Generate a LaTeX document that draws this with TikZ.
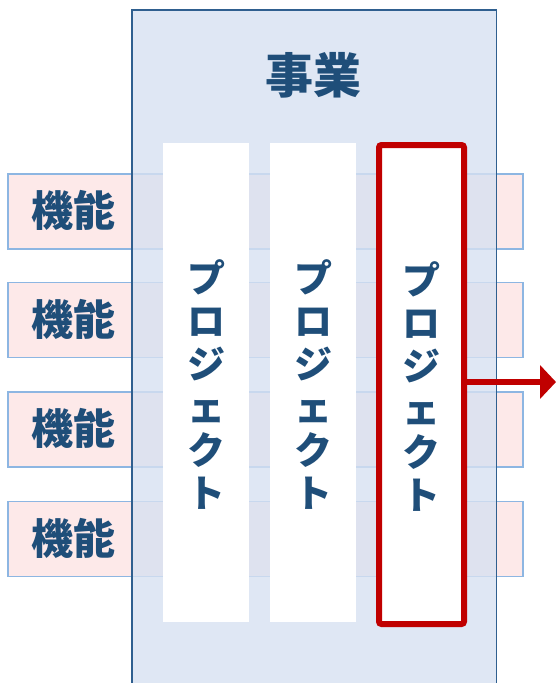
\documentclass[tikz,border=0pt]{standalone}
\usepackage{fontspec}
\newfontfamily\jp{Noto Sans CJK JP}
\usetikzlibrary{arrows.meta}
\definecolor{txtblue}{HTML}{1F4E79}
\definecolor{boxfill}{HTML}{D7E1F1}
\definecolor{boxline}{HTML}{2F5F8F}
\definecolor{rowfill}{HTML}{FDE9E9}
\definecolor{rowline}{HTML}{8DB6E2}
\definecolor{projred}{HTML}{C00000}
\begin{document}
\begin{tikzpicture}[x=1pt,y=-1pt,
  rowbox/.style={draw=rowline,line width=1.5pt,fill=rowfill,anchor=north west,minimum width=515pt,minimum height=75pt,inner sep=0pt},
  rowlabel/.style={font=\jp\bfseries\fontsize{42}{46}\selectfont,text=txtblue,inner sep=0pt},
  bizlabelstyle/.style={font=\jp\bfseries\fontsize{48}{52}\selectfont,text=txtblue,inner sep=0pt},
  projcol/.style={fill=white,anchor=north west,minimum width=86pt,minimum height=479pt,inner sep=0pt},
  projtext/.style={font=\jp\bfseries\fontsize{38}{43}\selectfont,text=txtblue,align=center,inner sep=0pt},
  redcol/.style={draw=projred,line width=6pt,rounded corners=2.5pt,fill=white,anchor=north west,minimum width=85pt,minimum height=479pt,inner sep=0pt},
  outarrow/.style={draw=projred,line width=6pt,-{Triangle[length=16pt,width=33pt]}}
]
\useasboundingbox (0,0) rectangle (556,683);
% function rows (under the business box)
\node[rowbox] (r1) at (7,173) {};
\node[rowbox] (r2) at (7,281.5) {};
\node[rowbox] (r3) at (7,391) {};
\node[rowbox] (r4) at (7,500.5) {};
% business box
\node[fill=boxfill,fill opacity=0.8,anchor=north west,minimum width=364pt,minimum height=674pt,inner sep=0pt] (biz) at (132,10) {};
\draw[boxline,line width=1.8pt] (biz.north west) rectangle (biz.south east);
\node[bizlabelstyle] (bizlabel) at (313,75) {事業};
% function labels
\node[rowlabel] (l1) at (73,210.5) {機能};
\node[rowlabel] (l2) at (73,319) {機能};
\node[rowlabel] (l3) at (73,428.5) {機能};
\node[rowlabel] (l4) at (73,538) {機能};
% projects
\node[projcol] (p1) at (163,143) {};
\node[projcol] (p2) at (270,143) {};
\node[redcol] (p3) at (376,142) {};
\node[projtext] (t1) at ([yshift=-2pt]p1.center) {プ\\ロ\\ジ\\ェ\\ク\\ト};
\node[projtext] (t2) at ([yshift=-2pt]p2.center) {プ\\ロ\\ジ\\ェ\\ク\\ト};
\node[projtext] (t3) at ([yshift=-2pt]p3.center) {プ\\ロ\\ジ\\ェ\\ク\\ト};
% output arrow
\coordinate (out) at (556,382);
\draw[outarrow] (p3.east |- out) -- (out);
\end{tikzpicture}
\end{document}
